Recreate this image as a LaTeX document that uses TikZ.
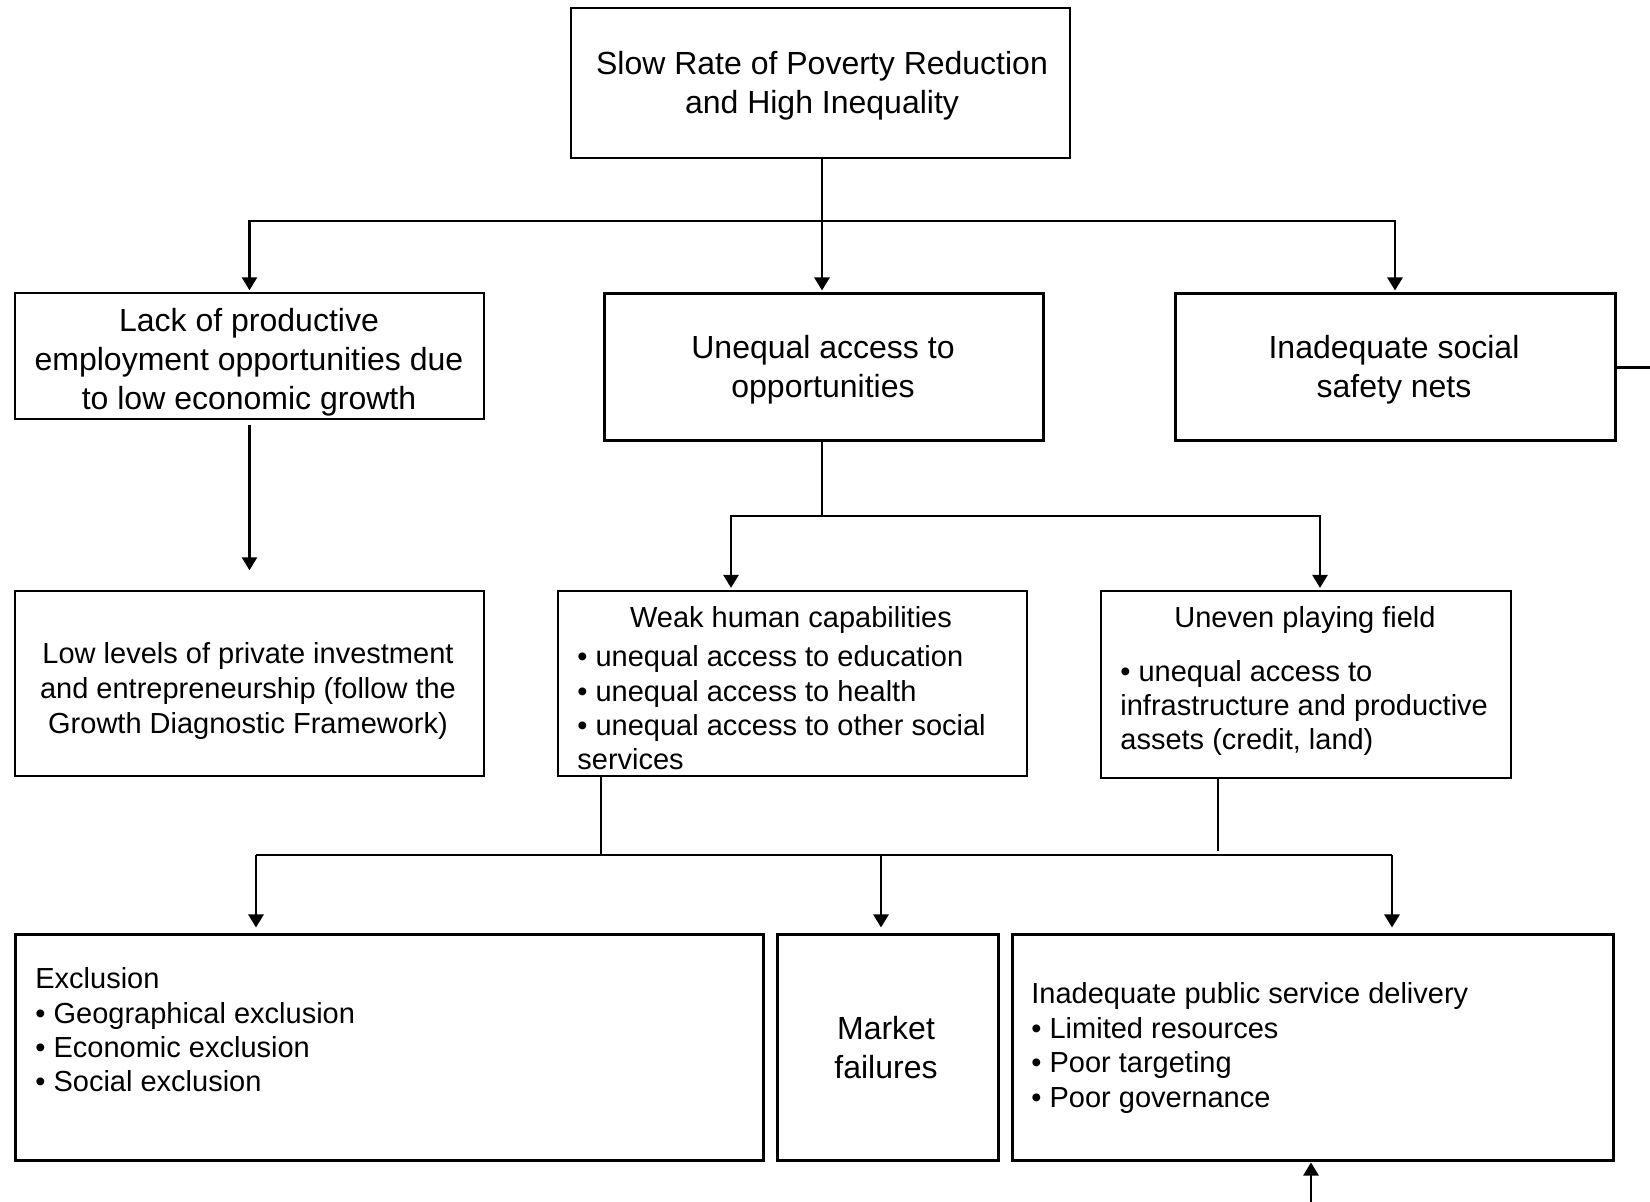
\documentclass[tikz,border=0pt]{standalone}
\usepackage{fontspec}
\setmainfont{Liberation Sans}
\usetikzlibrary{arrows.meta,calc}
\begin{document}
\begin{tikzpicture}[x=0.5pt,y=-0.5pt,
  boxbase/.style={draw,inner sep=0pt,anchor=center},
  thickbox/.style={boxbase,line width=1.5pt},
  midbox/.style={boxbase,line width=1.1pt},
  thinbox/.style={boxbase,line width=0.7pt},
  bigtxt/.style={inner sep=0pt,align=center,font=\fontsize{16}{19.5}\selectfont},
  smalltxt/.style={inner sep=0pt,align=center,font=\fontsize{14.5}{17.5}\selectfont},
  listtxt/.style={inner sep=0pt,align=left,anchor=west,font=\fontsize{14.5}{17.2}\selectfont},
  conn/.style={line width=1.3pt},
  arr/.style={conn,-{Triangle[length=6.5pt,width=7.5pt]}}]
\useasboundingbox (0,0) rectangle (1650,1202);
% boxes
\node[midbox,minimum width=249.5pt,minimum height=75pt] (top) at (820.5,83) {};
\node[thinbox,minimum width=234.5pt,minimum height=63pt] (lack) at (249.5,356) {};
\node[thickbox,minimum width=219.5pt,minimum height=73.5pt] (uneq) at (823.5,367.5) {};
\node[thickbox,minimum width=220pt,minimum height=73.5pt] (safe) at (1395,367.5) {};
\node[thinbox,minimum width=234.5pt,minimum height=92.5pt] (low) at (249.5,683.5) {};
\node[midbox,minimum width=234.5pt,minimum height=92.5pt] (weak) at (792.5,683.5) {};
\node[midbox,minimum width=205pt,minimum height=93.5pt] (uneven) at (1306,684.5) {};
\node[thickbox,minimum width=374pt,minimum height=112.5pt] (excl) at (389,1047.5) {};
\node[thickbox,minimum width=110.5pt,minimum height=112.5pt] (market) at (887.5,1047.5) {};
\node[thickbox,minimum width=300.5pt,minimum height=112.5pt] (public) at (1312.5,1047.5) {};
% texts
\node[bigtxt] (ttop) at (822,86) {Slow Rate of Poverty Reduction\\and High Inequality};
\node[bigtxt] (tlack) at (249,362) {Lack of productive\\employment opportunities due\\to low economic growth};
\node[bigtxt] (tuneq) at (823,370) {Unequal access to\\opportunities};
\node[bigtxt] (tsafe) at (1394,370) {Inadequate social\\safety nets};
\node[smalltxt] (tlow) at (248,691) {Low levels of private investment\\and entrepreneurship (follow the\\Growth Diagnostic Framework)};
\node[smalltxt] (tweak) at (791,620) {Weak human capabilities};
\node[listtxt] (lweak) at (577,708) {• unequal access to education\\• unequal access to health\\• unequal access to other social\\services};
\node[smalltxt] (tuneven) at (1305,620) {Uneven playing field};
\node[listtxt] (luneven) at (1120,708) {• unequal access to\\infrastructure and productive\\assets (credit, land)};
\node[listtxt] (lexcl) at (35,1030) {Exclusion\\• Geographical exclusion\\• Economic exclusion\\• Social exclusion};
\node[bigtxt] (tmarket) at (886,1048) {Market\\failures};
\node[listtxt] (lpublic) at (1031,1048) {Inadequate public service delivery\\• Limited resources\\• Poor targeting\\• Poor governance};
% connectors level 1
\coordinate (j1) at (822,221);
\draw[conn] (top.south -| j1) -- (j1);
\draw[arr,shorten >=1pt] (j1) -| (lack.north);
\draw[arr,shorten >=1pt] (j1) -- (uneq.north -| j1);
\draw[arr,shorten >=1pt] (j1) -| (safe.north);
\coordinate (rightend) at (1650,367.5);
\draw[conn] (safe.east) -- (rightend);
% lack -> low
\draw[arr,shorten <=2.5pt,shorten >=10pt] (lack.south) -- (low.north);
% unequal -> weak, uneven
\coordinate (j2) at (822,516);
\coordinate (weakin) at ($(weak.north)+(-61.5,0)$);
\coordinate (unevenin) at ($(uneven.north)+(14,0)$);
\draw[conn] (uneq.south -| j2) -- (j2);
\draw[arr,shorten >=1pt] (j2) -| (weakin);
\draw[arr,shorten >=1pt] (j2) -| (unevenin);
% weak, uneven -> bottom
\coordinate (j3L) at (256,855);
\coordinate (j3R) at (1392,855);
\coordinate (weakout) at ($(weak.south)+(-191.5,0)$);
\coordinate (unevenout) at ($(uneven.south)+(-88,0)$);
\coordinate (unevenend) at ($(uneven.south)+(-88,72)$);
\coordinate (exclin) at ($(excl.north)+(-133,0)$);
\coordinate (marketin) at ($(market.north)+(-6.5,0)$);
\coordinate (publicin) at ($(public.north)+(79.5,0)$);
\draw[conn] (j3L) -- (j3R);
\draw[conn] (weakout) -- (weakout |- j3L);
\draw[conn] (unevenout) -- (unevenend);
\draw[arr,shorten >=3pt] (j3L) -- (exclin);
\draw[arr,shorten >=3pt] (marketin |- j3L) -- (marketin);
\draw[arr,shorten >=3pt] (j3R) -- (publicin);
% bottom arrow up
\coordinate (bottomend) at (1311,1202);
\draw[arr,shorten >=0.5pt] (bottomend) -- (public.south -| bottomend);
\end{tikzpicture}
\end{document}
